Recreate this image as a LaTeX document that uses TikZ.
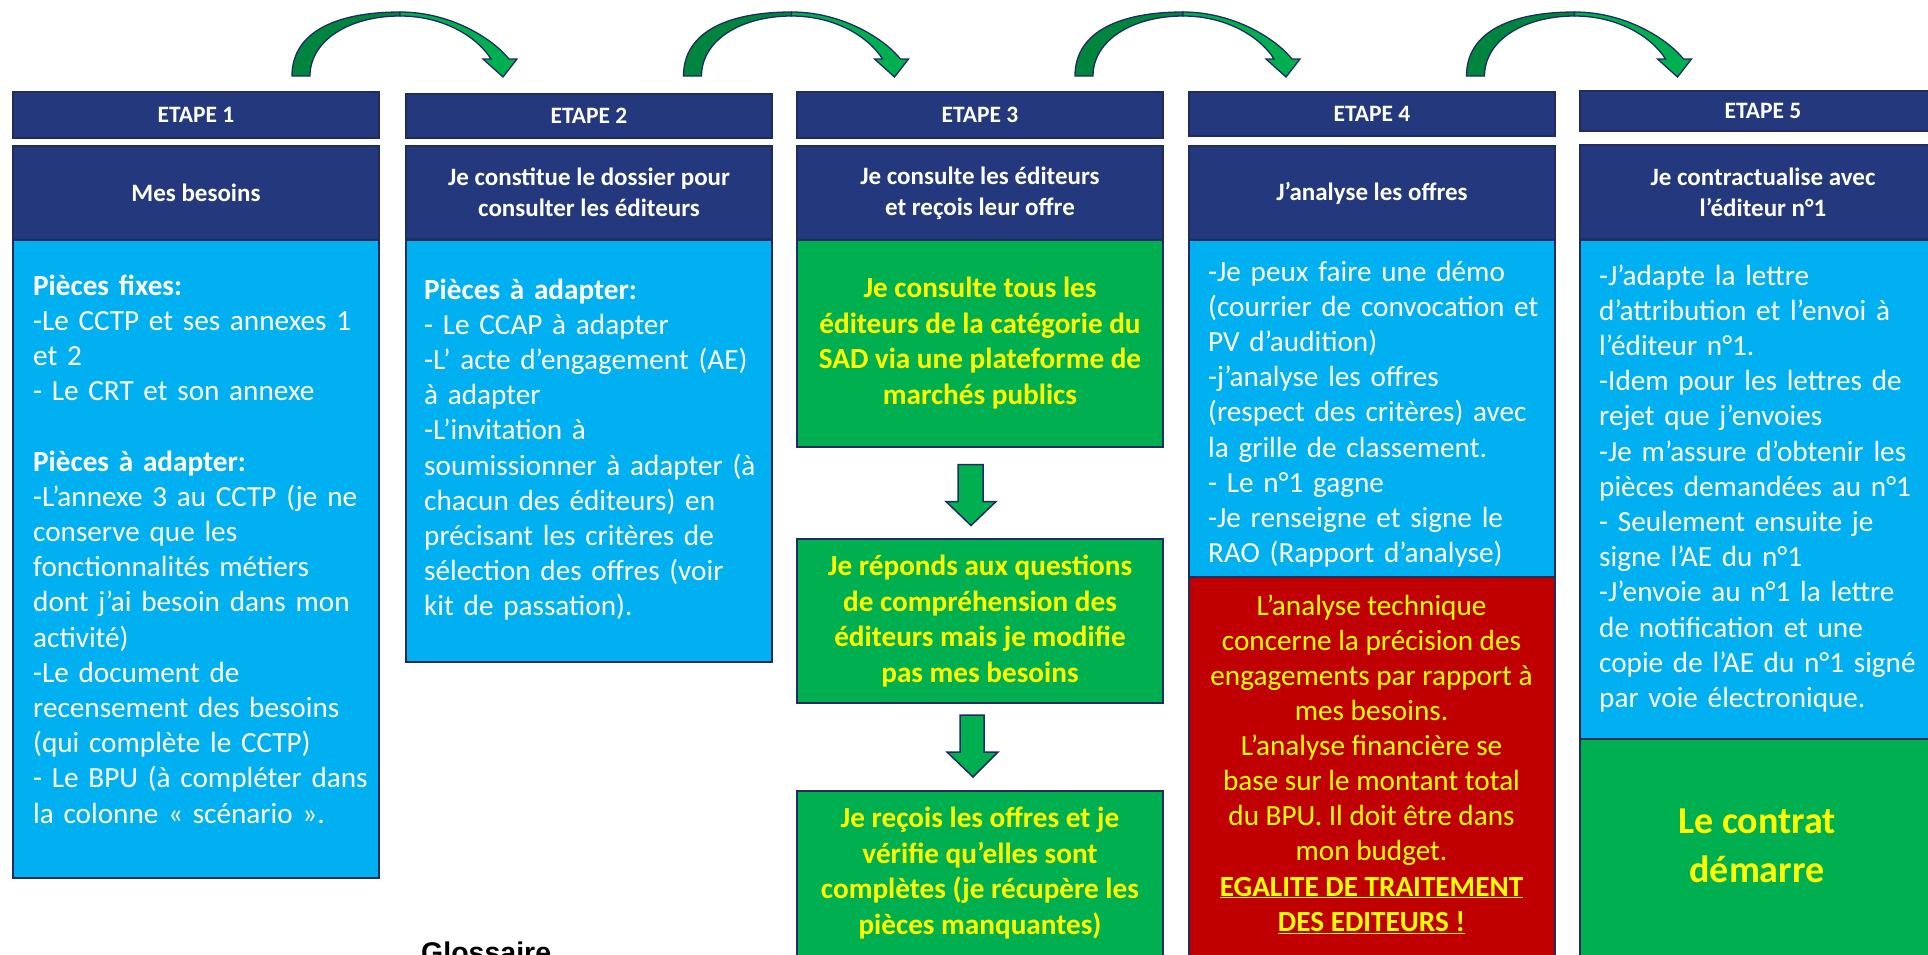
\documentclass[tikz,border=0pt]{standalone}
\usepackage{fontspec}
\setmainfont{Carlito}
\newfontfamily\arialfont{Liberation Sans}
\usetikzlibrary{calc}
\definecolor{navy}{RGB}{36,56,125}
\definecolor{edge}{RGB}{30,44,96}
\definecolor{sky}{RGB}{0,176,240}
\definecolor{grn}{RGB}{0,176,80}
\definecolor{dgrn}{RGB}{0,133,62}
\definecolor{rouge}{RGB}{192,0,0}
\definecolor{jaune}{RGB}{255,255,0}
\begin{document}
\begin{tikzpicture}[x=1pt,y=-1pt,
  box/.style={draw=edge, line width=2pt, anchor=north west, inner sep=0pt, outer sep=0pt, minimum width=366pt},
  hdr/.style={box, fill=navy, text=white, align=center, font=\bfseries\fontsize{23.5}{28}\selectfont},
  sub/.style={box, fill=navy, text=white, align=center, font=\bfseries\fontsize{25}{31}\selectfont},
  bluebox/.style={box, fill=sky},
  greenbox/.style={box, fill=grn},
  redbox/.style={box, fill=rouge},
  bodytext/.style={anchor=base west, text width=372pt, align=left, inner sep=0pt, text=white, font=\fontsize{29.2}{35.2}\selectfont},
  greentext/.style={anchor=center, align=center, inner sep=0pt, text=jaune, font=\bfseries\fontsize{29.2}{35.6}\selectfont},
  redtext/.style={anchor=center, align=center, inner sep=0pt, text=jaune, font=\fontsize{29.2}{35.1}\selectfont},
  downarrow/.style={fill=grn, draw=edge, line width=1.5pt, line join=miter},
  arcdark/.style={fill=dgrn, draw=edge, line width=1.3pt},
  arclight/.style={fill=grn, draw=edge, line width=1.3pt}
]
\useasboundingbox (0,0) rectangle (1928,954);
\fill[white] (0,0) rectangle (1928,954);
\begin{scope}
\clip (0,0) rectangle (1928,954);

% ---- curved arrows on top
\foreach \i in {0,1,2,3}{
  \begin{scope}[shift={(\i*391.5,0)}]
    \path[arcdark] (292,76) .. controls (292,30) and (340,12) .. (400,12)
       -- (400,16) .. controls (350,16) and (310,40) .. (310,76) -- cycle;
    \path[arclight] (400,12) .. controls (450,12) and (492,38) .. (509,59)
       -- (517,59) -- (503,77) -- (483,59) -- (491,59)
       .. controls (478,38) and (445,16) .. (400,16) -- cycle;
  \end{scope}
}

% ---- column 1
\node[hdr, minimum height=46pt] (h1) at (13,92) {ETAPE 1};
\node[sub, minimum height=94pt] (s1) at (13,146) {Mes besoins};
\node[bluebox, minimum height=638pt] (b1) at (13,240) {};
\node[bodytext] (t1) at (33,295) {\textbf{Pièces fixes:}\\
-Le CCTP et ses annexes 1\\
et 2\\
- Le CRT et son annexe\\
\mbox{}\\
\textbf{Pièces à adapter:}\\
-L’annexe 3 au CCTP (je ne\\
conserve que les\\
fonctionnalités métiers\\
dont j’ai besoin dans mon\\
activité)\\
-Le document de\\
recensement des besoins\\
(qui complète le CCTP)\\
- Le BPU (à compléter dans\\
la colonne « scénario ».};

% ---- column 2
\node[hdr, minimum height=44pt] (h2) at (406,94) {ETAPE 2};
\node[sub, minimum height=93pt] (s2) at (406,146) {Je constitue le dossier pour\\consulter les éditeurs};
\node[bluebox, minimum height=422pt] (b2) at (406,240) {};
\node[bodytext] (t2) at (424,299) {\textbf{Pièces à adapter:}\\
- Le CCAP à adapter\\
-L’ acte d’engagement (AE)\\
à adapter\\
-L’invitation à\\
soumissionner à adapter (à\\
chacun des éditeurs) en\\
précisant les critères de\\
sélection des offres (voir\\
kit de passation).};

% ---- column 3
\node[hdr, minimum height=46pt] (h3) at (797,92) {ETAPE 3};
\node[sub, minimum height=94pt] (s3) at (797,146) {Je consulte les éditeurs\\et reçois leur offre};
\node[greenbox, minimum height=207pt] (g1) at (797,240) {};
\node[greentext] (gt1) at (980,343) {Je consulte tous les\\éditeurs de la catégorie du\\SAD via une plateforme de\\marchés publics};
\node[greenbox, minimum height=164pt] (g2) at (797,539) {};
\node[greentext] (gt2) at (980,621) {Je réponds aux questions\\de compréhension des\\éditeurs mais je modifie\\pas mes besoins};
\node[greenbox, minimum height=185pt] (g3) at (797,791) {};
\node[greentext] (gt3) at (980,873) {Je reçois les offres et je\\vérifie qu’elles sont\\complètes (je récupère les\\pièces manquantes)};
\path[downarrow] (958,464.5) -- (983,464.5) -- (983,501.5) -- (996,501.5) -- (971,525.5) -- (946,501.5) -- (958,501.5) -- cycle;
\path[downarrow] (960,715) -- (984,715) -- (984,752) -- (998,752) -- (973,777) -- (947,752) -- (960,752) -- cycle;

% ---- column 4
\node[hdr, minimum height=44pt] (h4) at (1189,92) {ETAPE 4};
\node[sub, minimum height=94pt] (s4) at (1189,146) {J’analyse les offres};
\node[bluebox, minimum height=337pt] (b4) at (1189,240) {};
\node[bodytext] (t4) at (1208,281) {-Je peux faire une démo\\
(courrier de convocation et\\
PV d’audition)\\
-j’analyse les offres\\
(respect des critères) avec\\
la grille de classement.\\
- Le n°1 gagne\\
-Je renseigne et signe le\\
RAO (Rapport d’analyse)};
\node[redbox, minimum height=390pt] (r4) at (1189,577) {};
\node[redtext] (rt4) at (1371.5,764) {L’analyse technique\\concerne la précision des\\engagements par rapport à\\mes besoins.\\L’analyse financière se\\base sur le montant total\\du BPU. Il doit être dans\\mon budget.\\\textbf{\underline{EGALITE DE TRAITEMENT}}\\\textbf{\underline{DES EDITEURS !}}};

% ---- column 5
\node[hdr, minimum height=40pt] (h5) at (1580,91) {ETAPE 5};
\node[sub, minimum height=94pt] (s5) at (1580,145) {Je contractualise avec\\l’éditeur n°1};
\node[bluebox, minimum height=499pt] (b5) at (1580,240) {};
\node[bodytext] (t5) at (1599,285) {-J’adapte la lettre\\
d’attribution et l’envoi à\\
l’éditeur n°1.\\
-Idem pour les lettres de\\
rejet que j’envoies\\
-Je m’assure d’obtenir les\\
pièces demandées au n°1\\
- Seulement ensuite je\\
signe l’AE du n°1\\
-J’envoie au n°1 la lettre\\
de notification et une\\
copie de l’AE du n°1 signé\\
par voie électronique.};
\node[greenbox, minimum height=230pt] (g5) at (1580,739) {};
\node[anchor=center, align=center, inner sep=0pt, text=jaune, font=\bfseries\fontsize{38}{49}\selectfont] (gt5) at (1757,846) {Le contrat\\démarre};

% ---- glossary (cut off)
\node[anchor=base west, inner sep=0pt, font=\arialfont\bfseries\fontsize{28.5}{34}\selectfont] (gl) at (421,962) {Glossaire};
\end{scope}
\end{tikzpicture}
\end{document}
